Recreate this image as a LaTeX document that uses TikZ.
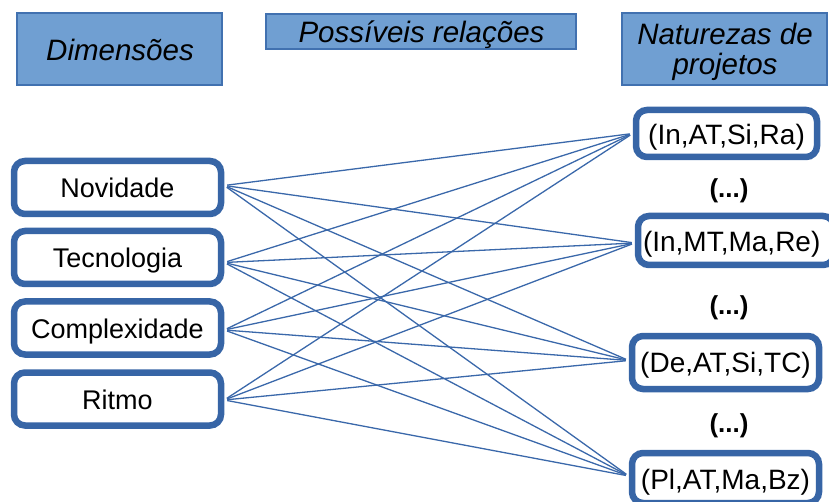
\documentclass[tikz,border=0pt]{standalone}
\usepackage{fontspec}
\setmainfont{Liberation Sans}
\definecolor{hdrfill}{RGB}{112,159,210}
\definecolor{hdrdraw}{RGB}{65,113,176}
\definecolor{boxdraw}{RGB}{55,101,166}
\definecolor{linkcol}{RGB}{58,104,170}
\begin{document}
\begin{tikzpicture}[x=1pt,y=-1pt,
  hdr/.style={draw=hdrdraw, fill=hdrfill, line width=1.5pt, inner sep=0pt},
  hdrtext/.style={anchor=base, inner sep=0pt, font=\fontsize{29.5}{32}\selectfont\itshape},
  dimbox/.style={draw=boxdraw, fill=white, line width=6.5pt, rounded corners=11pt, inner sep=0pt,
    minimum width=207pt, minimum height=53pt, text height=21pt, text depth=0pt,
    font=\fontsize{27}{30}\selectfont},
  natbox/.style={draw=boxdraw, fill=white, line width=6.5pt, rounded corners=11pt, inner sep=0pt,
    text height=22pt, text depth=0pt, font=\fontsize{28}{30}\selectfont},
  dots/.style={anchor=base, inner sep=0pt, font=\fontsize{26}{28}\selectfont\bfseries},
  link/.style={draw=linkcol, line width=1.3pt, shorten <=3pt, shorten >=3pt}]
\useasboundingbox (0,0) rectangle (829,502);

% headers
\node[hdr, minimum width=205pt, minimum height=72pt] (hdim) at (119.5,49) {};
\node[hdrtext] (tdim) at (120,61) {Dimensões};
\node[hdr, minimum width=310pt, minimum height=35pt] (hrel) at (421,31.5) {};
\node[hdrtext] (trel) at (421.5,43) {Possíveis relações};
\node[hdr, minimum width=205pt, minimum height=72pt] (hnat) at (724.5,49) {};
\node[hdrtext] (tnat1) at (725,45) {Naturezas de};
\node[hdrtext] (tnat2) at (725,75) {projetos};

% dimension boxes
\node[dimbox] (nov) at (117.5,187.5) {Novidade};
\node[dimbox] (tec) at (117.5,257.5) {Tecnologia};
\node[dimbox] (com) at (117.5,328) {Complexidade};
\node[dimbox] (rit) at (117.5,399) {Ritmo};

% nature boxes
\node[natbox, minimum width=181pt, minimum height=47pt] (n1) at (726.5,133.5) {(In,AT,Si,Ra)};
\node[natbox, minimum width=196pt, minimum height=49pt, text width=190pt, align=left] (n2) at (736,240.5) {\hspace{2pt}(In,MT,Ma,Re)};
\node[natbox, minimum width=187pt, minimum height=53pt, text height=20pt] (n3) at (725.5,362.5) {(De,AT,Si,TC)};
\node[natbox, minimum width=187pt, minimum height=50pt] (n4) at (725.5,478) {(Pl,AT,Ma,Bz)};

% ellipses
\node[dots] (d1) at (729,198) {(...)};
\node[dots] (d2) at (729,314) {(...)};
\node[dots] (d3) at (729,432) {(...)};

% connection points
\coordinate (pnov) at ([yshift=2pt]nov.east);
\coordinate (ptec) at ([yshift=-5pt]tec.east);
\coordinate (pcom) at ([yshift=-2pt]com.east);
\coordinate (prit) at ([yshift=-1pt]rit.east);
\coordinate (pn1) at (n1.west);
\coordinate (pn2) at ([yshift=-2.5pt]n2.west);
\coordinate (pn3) at ([yshift=2pt]n3.west);
\coordinate (pn4) at ([yshift=2pt]n4.west);

% links
\foreach \a in {pnov,ptec,pcom,prit}{
  \foreach \b in {pn1,pn2,pn3,pn4}{
    \draw[link] (\a) -- (\b);
  }
}
\end{tikzpicture}
\end{document}
